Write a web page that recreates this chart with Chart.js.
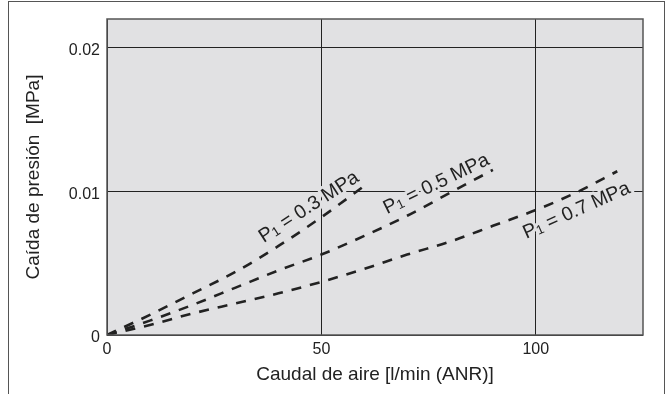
<!DOCTYPE html>
<html>
<head>
<meta charset="utf-8">
<script src="https://cdn.jsdelivr.net/npm/chart.js@4.4.1/dist/chart.umd.min.js"></script>
<style>
  html, body { margin: 0; padding: 0; background: #fff; }
  #wrap { position: relative; width: 670px; height: 394px; overflow: hidden; }
  #frame { position: absolute; left: 8px; top: 1px; width: 655px; height: 400px;
           border: 1.6px solid #555; border-bottom: none; pointer-events: none; }
  canvas { position: absolute; left: 0; top: 0; }
</style>
</head>
<body>
<div id="wrap">
  <canvas id="c" width="670" height="394"></canvas>
  <div id="frame"></div>
</div>
<script>
// ---- data ----
const flowP03 = [0, 10, 20, 30, 40, 50, 61];
const dropP03 = [0, 0.0014, 0.0029, 0.0044, 0.0062, 0.0082, 0.0106];
const flowP05 = [0, 10, 20, 30, 40, 50, 60, 70, 80, 90];
const dropP05 = [0, 0.0010, 0.0021, 0.0033, 0.0045, 0.0056, 0.0069, 0.0083, 0.0099, 0.0115];
const flowP07 = [0, 10, 20, 30, 40, 50, 60, 70, 80, 90, 100, 110, 119];
const dropP07 = [0, 0.0007, 0.0015, 0.0022, 0.0029, 0.0037, 0.0046, 0.0056, 0.0065, 0.0076, 0.0087, 0.0100, 0.0114];

const seriesNames = ['0.3 MPa', '0.5 MPa', '0.7 MPa'];
const xTicks = [0, 50, 100];
const xTickLabels = ['0', '50', '100'];
const yTicks = [0, 0.01, 0.02];
const yTickLabels = ['0', '0.01', '0.02'];
const xTitle = 'Caudal de aire [l/min (ANR)]';
const yTitle = 'Caída de presión  [MPa]';

// label placement (data coordinates of label centre) and rotation
const curveLabels = [
  { name: seriesNames[0], x: 47.1, y: 0.0089, angle: -33 },
  { name: seriesNames[1], x: 76.8, y: 0.0105, angle: -26 },
  { name: seriesNames[2], x: 109.5, y: 0.00865, angle: -24 }
];

const FONT = '"Liberation Sans", Arial, Helvetica, sans-serif';
const PLOT_BG = '#e1e1e3';
const INK = '#222';

function pts(xs, ys) { return xs.map((x, i) => ({ x: x, y: ys[i] })); }

const lineStyle = {
  borderColor: INK, borderWidth: 2.6, borderDash: [10, 9],
  pointRadius: 0, fill: false, cubicInterpolationMode: 'monotone', borderCapStyle: 'butt'
};

const plotBgPlugin = {
  id: 'plotBg',
  beforeDraw(chart) {
    const { ctx, chartArea: a } = chart;
    ctx.save();
    ctx.fillStyle = PLOT_BG;
    ctx.fillRect(a.left, a.top, a.right - a.left, a.bottom - a.top);
    ctx.restore();
  },
  afterDraw(chart) {
    const { ctx, chartArea: a } = chart;
    ctx.save();
    ctx.strokeStyle = '#555';
    ctx.lineWidth = 1.5;
    ctx.strokeRect(a.left, a.top, a.right - a.left, a.bottom - a.top);
    ctx.restore();
  }
};

const curveLabelPlugin = {
  id: 'curveLabels',
  beforeDatasetsDraw(chart) {
    const { ctx } = chart;
    const xs = chart.scales.x, ys = chart.scales.y;
    const size = 19.5;
    curveLabels.forEach(l => {
      const px = xs.getPixelForValue(l.x), py = ys.getPixelForValue(l.y);
      ctx.save();
      ctx.translate(px, py);
      ctx.rotate(l.angle * Math.PI / 180);
      const big = size + 'px ' + FONT, small = Math.round(size * 0.68) + 'px ' + FONT;
      const rest = ' = ' + l.name;
      ctx.font = big; const wP = ctx.measureText('P').width; const wR = ctx.measureText(rest).width;
      ctx.font = small; const w1 = ctx.measureText('1').width;
      const total = wP + w1 + wR;
      let x0 = -total / 2;
      const parts = [
        { t: 'P', f: big, x: x0, y: 0 },
        { t: '1', f: small, x: x0 + wP, y: 3 },
        { t: rest, f: big, x: x0 + wP + w1, y: 0 }
      ];
      ctx.textBaseline = 'middle';
      ctx.textAlign = 'left';
      ctx.lineJoin = 'round';
      parts.forEach(p => {
        ctx.font = p.f;
        ctx.strokeStyle = PLOT_BG; ctx.lineWidth = 6;
        ctx.strokeText(p.t, p.x, p.y);
      });
      parts.forEach(p => {
        ctx.font = p.f;
        ctx.fillStyle = INK;
        ctx.fillText(p.t, p.x, p.y);
      });
      ctx.restore();
    });
  }
};

new Chart(document.getElementById('c'), {
  type: 'line',
  data: {
    datasets: [
      Object.assign({ label: seriesNames[0], data: pts(flowP03, dropP03) }, lineStyle),
      Object.assign({ label: seriesNames[1], data: pts(flowP05, dropP05) }, lineStyle),
      Object.assign({ label: seriesNames[2], data: pts(flowP07, dropP07) }, lineStyle)
    ]
  },
  options: {
    responsive: false,
    animation: false,
    devicePixelRatio: 1,
    layout: { padding: { top: 19, right: 27, left: 0, bottom: 0 } },
    plugins: { legend: { display: false }, tooltip: { enabled: false } },
    scales: {
      x: {
        type: 'linear', min: 0, max: 125,
        afterBuildTicks(axis) { axis.ticks = xTicks.map(v => ({ value: v })); },
        afterFit(axis) { axis.height = 59; },
        grid: { color: '#222', lineWidth: 1, drawTicks: false },
        border: { display: false },
        ticks: {
          padding: 5, color: INK, font: { family: FONT, size: 16 },
          callback: (v, i) => xTickLabels[i]
        },
        title: { display: true, text: xTitle, color: INK, font: { family: FONT, size: 19 },
                 padding: { top: 0, bottom: 8 } }
      },
      y: {
        type: 'linear', min: 0, max: 0.022,
        afterBuildTicks(axis) { axis.ticks = yTicks.map(v => ({ value: v })); },
        afterFit(axis) { axis.width = 107; },
        grid: { color: '#222', lineWidth: 1, drawTicks: false },
        border: { display: false },
        ticks: {
          padding: 7, labelOffset: 3, color: INK, font: { family: FONT, size: 16 },
          callback: (v, i) => yTickLabels[i]
        },
        title: { display: true, text: yTitle, color: INK, font: { family: FONT, size: 19 },
                 padding: { top: 22, bottom: 0 } }
      }
    }
  },
  plugins: [plotBgPlugin, curveLabelPlugin]
});
</script>
</body>
</html>
